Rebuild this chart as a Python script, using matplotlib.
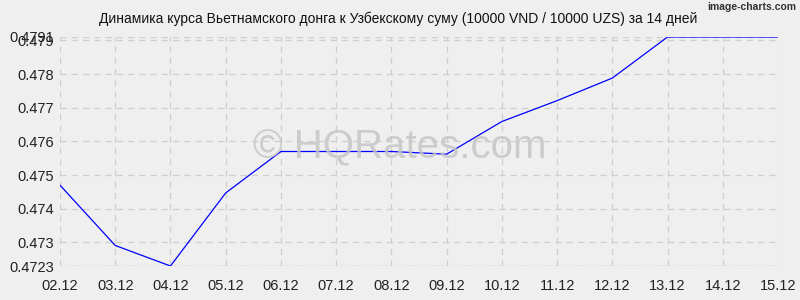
import matplotlib
matplotlib.use("Agg")
import matplotlib.pyplot as plt

dates = ["02.12", "03.12", "04.12", "05.12", "06.12", "07.12", "08.12",
         "09.12", "10.12", "11.12", "12.12", "13.12", "14.12", "15.12"]
rates = [0.47470, 0.47291, 0.4723, 0.47447, 0.47570, 0.47570, 0.47570,
         0.47562, 0.47659, 0.47721, 0.47788, 0.4791, 0.4791, 0.4791]
y_ticks = [0.4723, 0.473, 0.474, 0.475, 0.476, 0.477, 0.478, 0.479, 0.4791]
y_labels = ["0.4723", "0.473", "0.474", "0.475", "0.476", "0.477", "0.478", "0.479", "0.4791"]
title = "Динамика курса Вьетнамского донга к Узбекскому суму (10000 VND / 10000 UZS) за 14 дней"

plt.rcParams['font.family'] = ['Liberation Sans', 'DejaVu Sans']
bg = "#efefef"
fig = plt.figure(figsize=(8, 3), dpi=100, facecolor=bg)
ax = fig.add_axes([0.075, 0.1133, 0.8975, 0.7634], facecolor=bg)

x = list(range(len(dates)))
ax.plot(x, rates, color="#0000ff", linewidth=0.9, zorder=3)

ax.set_xlim(0, len(dates) - 1)
ax.set_ylim(0.4723, 0.4791)
ax.set_xticks(x)
ax.set_xticklabels(dates)
ax.set_yticks(y_ticks)
ax.set_yticklabels(y_labels)
ax.tick_params(axis='both', length=0, labelsize=10.5, colors="#222222", pad=4)
ax.tick_params(axis='x', pad=9)
for s in ax.spines.values():
    s.set_visible(False)
ax.grid(True, color="#cfcfcf", linestyle=(0, (5, 4)), linewidth=0.9)
ax.axhline(0.4723, color="#c8c8c8", linewidth=0.9, zorder=1)

fig.text(0.498, 0.937, title, ha="center", va="center", fontsize=10, color="#111111")
fig.text(0.995, 0.975, "image-charts.com", ha="right", va="center", fontsize=7.5, color="#333333",
         fontweight="bold")
fig.text(0.5, 0.51, "© HQRates.com", ha="center", va="center", fontsize=29, color="#c4c4c4",
         alpha=0.8, zorder=0)

fig.savefig("out.png", dpi=100, facecolor=bg)
